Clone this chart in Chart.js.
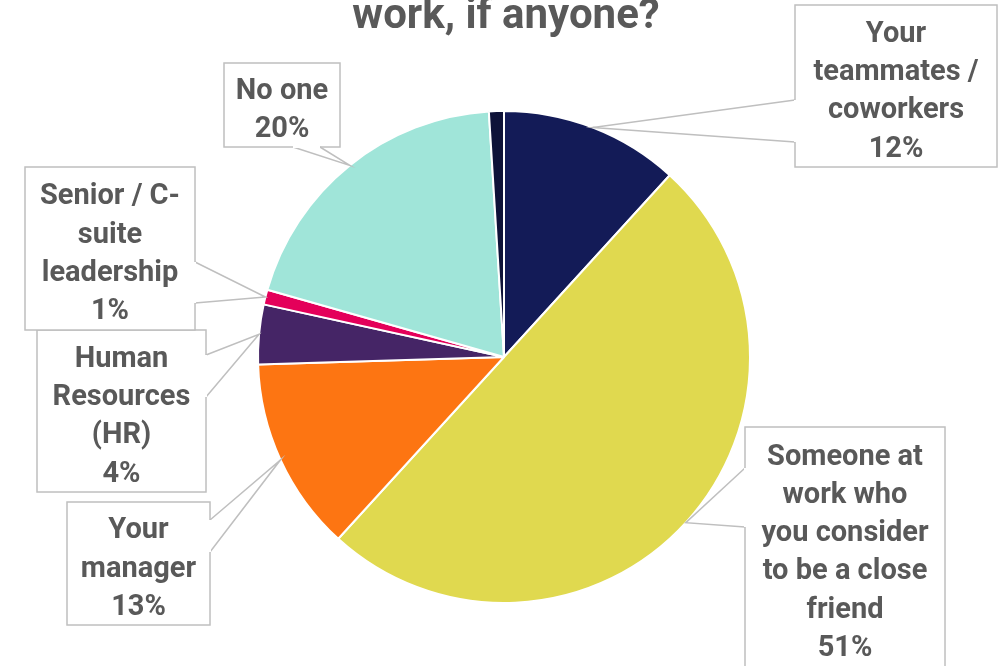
<!DOCTYPE html>
<html>
<head>
<meta charset="utf-8">
<script src="https://cdn.jsdelivr.net/npm/chart.js@4"></script>
<style>
  html, body { margin: 0; padding: 0; background: #ffffff; }
  #wrap { width: 999px; height: 666px; position: relative; }
</style>
</head>
<body>
<div id="wrap"><canvas id="pieChart" width="999" height="666"></canvas></div>
<script>
// Who do you talk to at work, if anyone?
const titleText = "work, if anyone?";

const categories = [
  ["Your", "teammates /", "coworkers"],
  ["Someone at", "work who", "you consider", "to be a close", "friend"],
  ["Your", "manager"],
  ["Human", "Resources", "(HR)"],
  ["Senior / C-", "suite", "leadership"],
  ["No one"],
  ["Other"]
];
const percents = [12, 51, 13, 4, 1, 20, 1];
const showCallout = [true, true, true, true, true, true, false];

const sliceColors = ["#131b57", "#e0d94f", "#fd7512", "#452566", "#e4005a", "#a0e5d9", "#0e1238"];

// callout boxes (layout only): box rect + two points where the pointer leaves the box
const callouts = [
  { x: 795, y: 5,   w: 202, h: 162, base: [[795, 100], [795, 142]] },
  { x: 745, y: 427, w: 200, h: 240, base: [[745, 468], [745, 527]] },
  { x: 67,  y: 502, w: 143, h: 123, base: [[210, 520], [210, 552]] },
  { x: 37,  y: 330, w: 169, h: 162, base: [[206, 355], [206, 397]] },
  { x: 25,  y: 167, w: 170, h: 163, base: [[195, 262], [195, 303]] },
  { x: 224, y: 63,  w: 116, h: 84,  base: [[293, 147], [320, 147]] }
];

const textGrey = "#595959";
const fontFam = "Roboto, 'Liberation Sans', sans-serif";

const calloutPlugin = {
  id: "callouts",
  afterDraw(chart) {
    const ctx = chart.ctx;
    const meta = chart.getDatasetMeta(0);

    // title (top line is cut off in the source image)
    ctx.save();
    ctx.fillStyle = textGrey;
    ctx.font = "700 42px " + fontFam;
    ctx.textAlign = "center";
    ctx.textBaseline = "alphabetic";
    ctx.fillText(titleText, 506, 28);
    ctx.restore();

    meta.data.forEach((arc, i) => {
      if (!showCallout[i] || !callouts[i]) return;
      const c = callouts[i];
      const p = arc.getProps(["x", "y", "startAngle", "endAngle", "outerRadius"], true);
      const mid = (p.startAngle + p.endAngle) / 2;
      const tip = [p.x + Math.cos(mid) * p.outerRadius, p.y + Math.sin(mid) * p.outerRadius];

      ctx.save();
      ctx.fillStyle = "#ffffff";
      ctx.strokeStyle = "#bfbfbf";
      ctx.lineWidth = 1.5;
      // box
      ctx.fillRect(c.x, c.y, c.w, c.h);
      ctx.strokeRect(c.x, c.y, c.w, c.h);
      // pointer
      ctx.beginPath();
      ctx.moveTo(c.base[0][0], c.base[0][1]);
      ctx.lineTo(tip[0], tip[1]);
      ctx.lineTo(c.base[1][0], c.base[1][1]);
      ctx.fill();
      ctx.stroke();
      // cover the box edge under the pointer opening
      ctx.beginPath();
      ctx.moveTo(c.base[0][0], c.base[0][1]);
      ctx.lineTo(c.base[1][0], c.base[1][1]);
      ctx.lineWidth = 2;
      ctx.strokeStyle = "#ffffff";
      ctx.stroke();

      // text
      const lines = categories[i].concat([percents[i] + "%"]);
      const lh = 38.3;
      const cx = c.x + c.w / 2;
      const cy = c.y + c.h / 2 + 6;
      ctx.fillStyle = textGrey;
      ctx.font = "700 29px " + fontFam;
      ctx.textAlign = "center";
      ctx.textBaseline = "middle";
      lines.forEach((ln, k) => {
        ctx.fillText(ln, cx, cy + (k - (lines.length - 1) / 2) * lh);
      });
      ctx.restore();
    });
  }
};

new Chart(document.getElementById("pieChart"), {
  type: "pie",
  data: {
    labels: categories,
    datasets: [{
      data: percents,
      backgroundColor: sliceColors,
      borderColor: "#ffffff",
      borderWidth: 2
    }]
  },
  options: {
    responsive: false,
    animation: false,
    devicePixelRatio: 1,
    layout: { padding: { top: 110, bottom: 62, left: 257, right: 248 } },
    plugins: {
      legend: { display: false },
      tooltip: { enabled: false },
      title: { display: false }
    }
  },
  plugins: [calloutPlugin]
});
</script>
</body>
</html>
